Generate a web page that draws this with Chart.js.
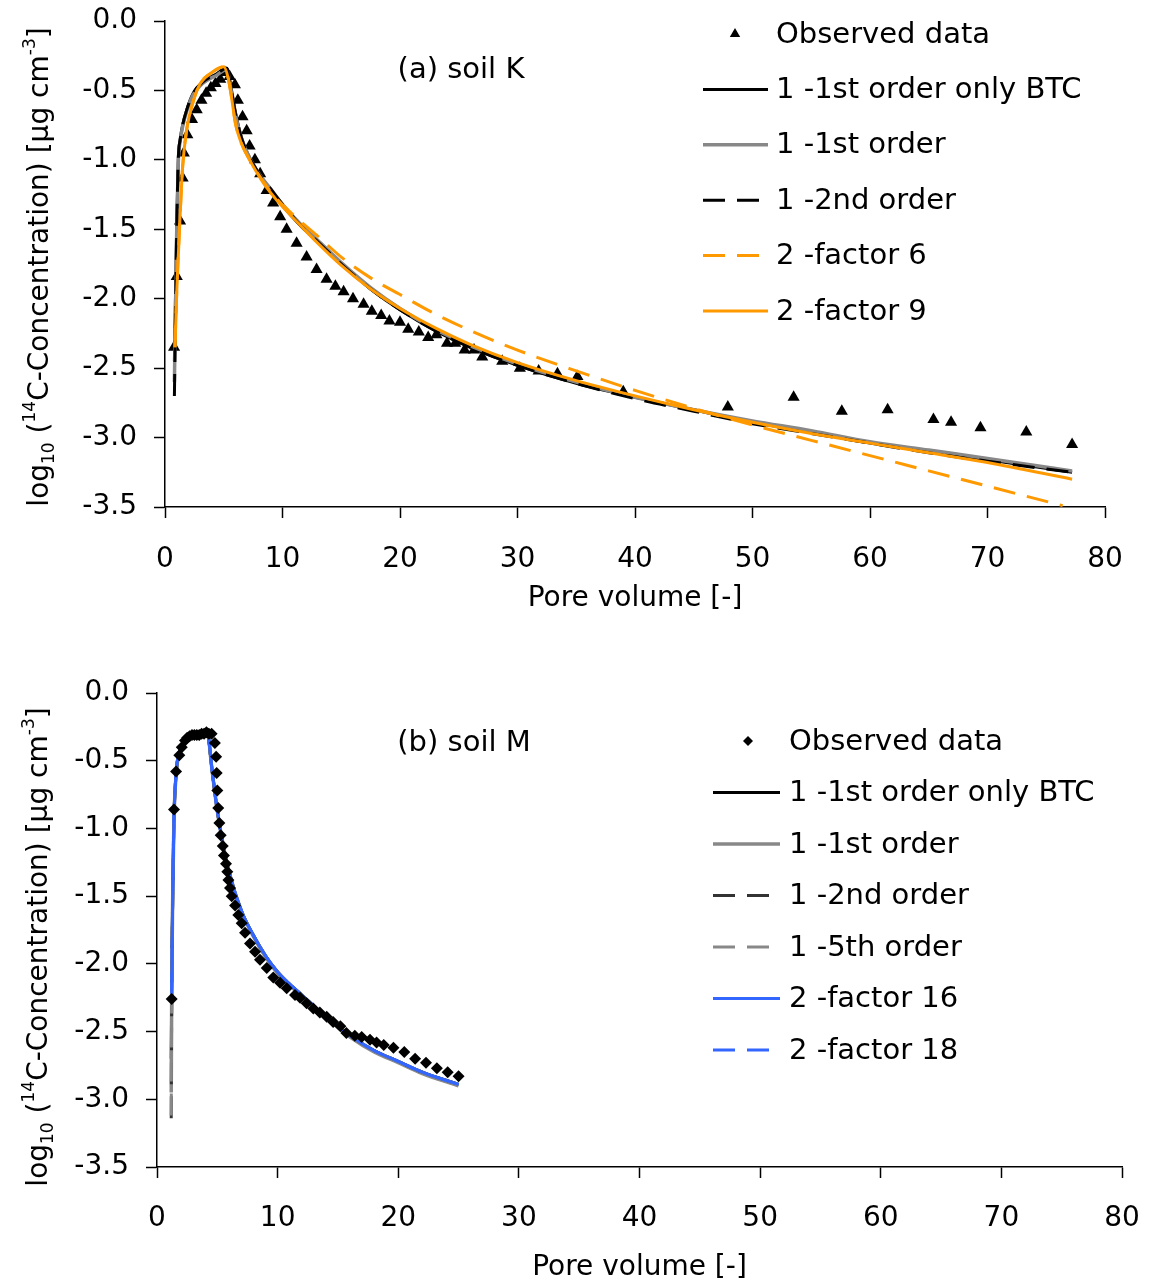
<!DOCTYPE html>
<html>
<head>
<meta charset="utf-8">
<script src="https://cdn.jsdelivr.net/npm/chart.js@4.4.0/dist/chart.umd.min.js"></script>
<style>
    html, body { margin: 0; padding: 0; background: #fff; }
    #wrap { position: relative; width: 1151px; height: 1286px; }
    #chartA { position: absolute; left: 0; top: 0; width: 1151px; height: 620px; }
    #chartB { position: absolute; left: 0; top: 640px; width: 1151px; height: 646px; }
</style>
</head>
<body>
<div id="wrap">
    <canvas id="chartA" width="1151" height="620"></canvas>
    <canvas id="chartB" width="1151" height="646"></canvas>
</div>
<script>
// ---- (a) soil K ----
const kObsX = [0.77, 1.0, 1.28, 1.5, 1.6, 1.9, 2.3, 2.7, 3.1, 3.5, 3.9, 4.3, 4.7, 5.1, 5.5, 5.95, 6.2, 6.6, 6.95, 7.2,
    7.65, 8.1, 8.65, 9.2, 9.8, 10.35, 11.2, 12.05, 12.9, 13.75, 14.5, 15.2, 16.0, 16.9, 17.6, 18.4, 19.1, 20.0, 20.7, 21.6,
    22.4, 23.1, 24.0, 24.7, 25.5, 26.3, 27.0, 28.7, 30.2, 31.8, 33.4, 35.1, 39.0, 47.9, 53.5, 57.6, 61.5, 65.4, 66.9, 69.4,
    73.3, 77.2];
const kObsY = [-2.35, -1.84, -1.44, -1.13, -0.95, -0.82, -0.71, -0.64, -0.57, -0.52, -0.48, -0.45, -0.42, -0.37, -0.40, -0.46, -0.57, -0.69, -0.79, -0.90,
    -1.00, -1.10, -1.22, -1.31, -1.41, -1.50, -1.60, -1.70, -1.79, -1.86, -1.91, -1.95, -2.00, -2.04, -2.09, -2.12, -2.16, -2.17, -2.22, -2.24,
    -2.28, -2.26, -2.32, -2.32, -2.37, -2.37, -2.42, -2.45, -2.50, -2.52, -2.54, -2.56, -2.67, -2.78, -2.71, -2.81, -2.80, -2.87, -2.89, -2.93,
    -2.96, -3.05];

const kModelX = [0.8, 0.9, 1.0, 1.13, 1.3, 1.5, 1.85, 2.4, 3.2, 4.4, 5.25, 5.6, 6.0, 6.5, 7.0, 8.0, 9.0, 10, 11.5, 13,
    15, 17.5, 20, 23, 26, 30, 35, 40, 45, 50, 55, 60, 65, 70, 77.2];
const kBtcY = [-2.45, -1.95, -1.45, -1.00, -0.85, -0.75, -0.64, -0.52, -0.44, -0.38, -0.34, -0.47, -0.66, -0.84, -0.95, -1.10, -1.22, -1.33, -1.47, -1.59,
    -1.75, -1.93, -2.08, -2.23, -2.35, -2.48, -2.61, -2.71, -2.80, -2.89, -2.96, -3.04, -3.10, -3.16, -3.25];
const kFirstY = [-2.60, -2.05, -1.50, -1.02, -0.86, -0.76, -0.65, -0.53, -0.45, -0.39, -0.35, -0.49, -0.68, -0.84, -0.95, -1.10, -1.21, -1.32, -1.46, -1.58,
    -1.74, -1.92, -2.07, -2.22, -2.34, -2.47, -2.60, -2.71, -2.80, -2.88, -2.95, -3.03, -3.09, -3.15, -3.24];
const kSecondY = [-2.70, -2.10, -1.50, -1.00, -0.85, -0.75, -0.64, -0.52, -0.44, -0.38, -0.34, -0.48, -0.67, -0.84, -0.95, -1.10, -1.21, -1.32, -1.47, -1.59,
    -1.75, -1.93, -2.08, -2.23, -2.35, -2.48, -2.61, -2.72, -2.81, -2.90, -2.97, -3.04, -3.11, -3.17, -3.25];

const kFactor9X = [0.85, 1.0, 1.28, 1.5, 1.85, 2.4, 3.0, 4.0, 5.0, 5.4, 5.7, 6.0, 6.5, 7.2, 8.4, 9.5, 11.5, 13, 15, 17.5,
    20, 23, 26, 30, 35, 40, 45, 50, 55, 60, 65, 70, 77.2];
const kFactor9Y = [-2.35, -1.95, -1.41, -1.05, -0.78, -0.58, -0.45, -0.37, -0.33, -0.42, -0.57, -0.74, -0.88, -1.00, -1.17, -1.29, -1.47, -1.60, -1.76, -1.93,
    -2.07, -2.21, -2.33, -2.46, -2.59, -2.70, -2.80, -2.89, -2.97, -3.04, -3.11, -3.18, -3.30];
const kFactor6X = [0.85, 1.0, 1.28, 1.5, 1.85, 2.4, 3.0, 4.0, 5.0, 5.4, 5.7, 6.0, 6.5, 7.2, 8.4, 9.5, 11.5, 13, 15, 17.5,
    20, 23, 26, 30, 35, 40, 45, 50, 55, 60, 65, 70, 76.4];
const kFactor6Y = [-2.35, -1.95, -1.41, -1.05, -0.78, -0.58, -0.45, -0.37, -0.33, -0.42, -0.57, -0.74, -0.88, -1.00, -1.16, -1.28, -1.44, -1.55, -1.70, -1.85,
    -1.97, -2.11, -2.23, -2.37, -2.52, -2.66, -2.79, -2.91, -3.02, -3.13, -3.24, -3.35, -3.49];

// ---- (b) soil M ----
const mObsX = [1.22, 1.41, 1.58, 1.85, 2.05, 2.32, 2.5, 2.7, 2.9, 3.1, 3.3, 3.5, 3.7, 3.9, 4.1, 4.3, 4.53, 4.8, 4.9, 4.95,
    5.0, 5.08, 5.17, 5.28, 5.45, 5.55, 5.72, 5.83, 5.92, 6.05, 6.19, 6.47, 6.74, 7.02, 7.3, 7.71, 8.13, 8.54, 9.1, 9.64,
    10.2, 10.75, 11.44, 11.86, 12.4, 12.96, 13.5, 14.07, 14.6, 15.2, 15.7, 16.4, 16.97, 17.66, 18.2, 18.8, 19.6, 20.5, 21.4, 22.3,
    23.2, 24.1, 25.0];
const mObsY = [-2.26, -0.86, -0.58, -0.46, -0.40, -0.35, -0.33, -0.32, -0.31, -0.31, -0.31, -0.31, -0.30, -0.30, -0.29, -0.30, -0.30, -0.37, -0.47, -0.59,
    -0.72, -0.85, -0.96, -1.05, -1.13, -1.20, -1.26, -1.32, -1.38, -1.44, -1.50, -1.57, -1.64, -1.70, -1.77, -1.85, -1.91, -1.97, -2.03, -2.10,
    -2.14, -2.18, -2.23, -2.25, -2.29, -2.33, -2.36, -2.39, -2.43, -2.46, -2.51, -2.53, -2.54, -2.56, -2.58, -2.60, -2.62, -2.65, -2.70, -2.73,
    -2.77, -2.80, -2.83];

const mModelX = [1.18, 1.22, 1.3, 1.4, 1.6, 2.0, 2.5, 3.0, 3.5, 4.0, 4.25, 4.5, 5.0, 5.5, 6.0, 7.0, 8.0, 9.0, 10, 11,
    12, 13, 14, 15, 16, 18, 20, 22, 25];
const mBtcY = [-2.70, -2.20, -1.50, -0.95, -0.58, -0.40, -0.33, -0.30, -0.29, -0.29, -0.32, -0.52, -0.87, -1.13, -1.33, -1.61, -1.79, -1.94, -2.06, -2.15,
    -2.23, -2.31, -2.39, -2.46, -2.53, -2.64, -2.72, -2.80, -2.89];
const mFirstY = [-2.95, -2.20, -1.52, -0.96, -0.59, -0.40, -0.33, -0.30, -0.29, -0.29, -0.32, -0.52, -0.87, -1.13, -1.33, -1.61, -1.80, -1.95, -2.07, -2.16,
    -2.24, -2.32, -2.40, -2.47, -2.54, -2.65, -2.73, -2.81, -2.90];
const mSecondY = [-3.14, -2.20, -1.50, -0.95, -0.58, -0.40, -0.33, -0.30, -0.29, -0.29, -0.32, -0.52, -0.87, -1.13, -1.33, -1.61, -1.79, -1.94, -2.06, -2.15,
    -2.23, -2.31, -2.39, -2.46, -2.53, -2.64, -2.72, -2.80, -2.89];
const mFifthY = [-3.12, -2.20, -1.50, -0.95, -0.58, -0.40, -0.33, -0.30, -0.29, -0.29, -0.32, -0.52, -0.87, -1.13, -1.33, -1.61, -1.79, -1.94, -2.06, -2.15,
    -2.23, -2.31, -2.39, -2.46, -2.53, -2.64, -2.72, -2.80, -2.89];
const mFactor16Y = [null, -2.20, -1.50, -0.95, -0.58, -0.40, -0.33, -0.30, -0.29, -0.29, -0.32, -0.52, -0.87, -1.13, -1.33, -1.61, -1.79, -1.94, -2.06, -2.15,
    -2.23, -2.31, -2.39, -2.46, -2.53, -2.64, -2.72, -2.80, -2.89];
const mFactor18Y = [null, -2.22, -1.50, -0.95, -0.58, -0.40, -0.33, -0.30, -0.29, -0.29, -0.32, -0.52, -0.87, -1.13, -1.33, -1.61, -1.79, -1.94, -2.06, -2.15,
    -2.23, -2.31, -2.39, -2.46, -2.53, -2.64, -2.72, -2.80, -2.89];

const yTicks = { min: -3.5, max: 0, step: 0.5 };
const xTicks = { min: 0, max: 80, step: 10 };

Chart.defaults.font.family = '"DejaVu Sans", sans-serif';
Chart.defaults.color = '#000';

const ORANGE = '#FF9900';
const BLUE = '#3366FF';
const DASH = [22, 12];

function pts(xs, ys) {
    return xs.map((x, i) => ({ x: x, y: ys[i] })).filter(p => p.y !== null);
}

function lineSet(label, xs, ys, color, width, dash, order) {
    return {
        label: label,
        data: pts(xs, ys),
        borderColor: color,
        backgroundColor: color,
        borderWidth: width,
        borderDash: dash || [],
        pointRadius: 0,
        cubicInterpolationMode: 'monotone',
        order: order
    };
}

function obsSet(xs, ys, style, r, order) {
    return {
        label: 'Observed data',
        data: pts(xs, ys),
        showLine: false,
        pointStyle: style,
        pointRadius: r,
        pointBorderWidth: 0,
        pointBackgroundColor: '#000',
        borderColor: '#000',
        backgroundColor: '#000',
        order: order
    };
}

function drawMarker(ctx, style, x, y, r) {
    ctx.beginPath();
    if (style === 'triangle') {
        ctx.moveTo(x, y - r);
        ctx.lineTo(x + r * Math.sin(2 * Math.PI / 3), y + r / 2);
        ctx.lineTo(x - r * Math.sin(2 * Math.PI / 3), y + r / 2);
    } else {
        ctx.moveTo(x, y - r);
        ctx.lineTo(x + r, y);
        ctx.lineTo(x, y + r);
        ctx.lineTo(x - r, y);
    }
    ctx.closePath();
    ctx.fillStyle = '#000';
    ctx.fill();
}

// legend, panel label and y title (sub/superscripts) drawn on the canvas
const decor = {
    id: 'decor',
    afterDraw(chart, args, o) {
        const ctx = chart.ctx;
        ctx.save();
        ctx.fillStyle = '#000';
        ctx.font = '29px "DejaVu Sans"';
        ctx.textAlign = 'center';
        ctx.textBaseline = 'middle';
        ctx.fillText(o.label, o.labelX, o.labelY);

        ctx.textAlign = 'left';
        chart.data.datasets.forEach((ds, i) => {
            const y = o.legendY + i * o.legendGap;
            if (ds.showLine === false) {
                drawMarker(ctx, ds.pointStyle, o.markerX, y, o.markerR);
            } else {
                ctx.beginPath();
                ctx.strokeStyle = ds.borderColor;
                ctx.lineWidth = ds.borderWidth;
                ctx.setLineDash(ds.borderDash);
                ctx.moveTo(o.lineX0, y);
                ctx.lineTo(o.lineX1, y);
                ctx.stroke();
                ctx.setLineDash([]);
            }
            ctx.fillStyle = '#000';
            ctx.font = '29px "DejaVu Sans"';
            ctx.fillText(ds.label, o.textX, y + 1);
        });

        const big = '28px "DejaVu Sans"', small = '17px "DejaVu Sans"';
        const parts = [['log', 0], ['10', 1], [' (', 0], ['14', 2], ['C-Concentration) [µg cm', 0], ['-3', 2], [']', 0]];
        let total = 0;
        parts.forEach(p => { ctx.font = p[1] ? small : big; total += ctx.measureText(p[0]).width; });
        ctx.translate(o.titleX, o.titleY);
        ctx.rotate(-Math.PI / 2);
        ctx.textBaseline = 'alphabetic';
        let u = -total / 2;
        parts.forEach(p => {
            ctx.font = p[1] ? small : big;
            const v = p[1] === 1 ? 16 : (p[1] === 2 ? -3 : 10);
            ctx.fillText(p[0], u, v);
            u += ctx.measureText(p[0]).width;
        });
        ctx.restore();
    }
};

function scales(yWidth, xHeight, xPad, titlePad) {
    const grid = { drawOnChartArea: false, drawTicks: true, tickLength: 11, color: '#000', tickWidth: 1.5 };
    const border = { display: true, color: '#000', width: 1.5 };
    return {
        x: {
            type: 'linear', min: xTicks.min, max: xTicks.max,
            ticks: { stepSize: xTicks.step, padding: xPad, color: '#000', font: { size: 28 } },
            grid: grid, border: border,
            title: { display: true, text: 'Pore volume [-]', color: '#000', font: { size: 28 }, padding: { top: 0, bottom: titlePad } },
            afterFit: s => { s.height = xHeight; s.paddingLeft = 0; s.paddingRight = 0; }
        },
        y: {
            type: 'linear', min: yTicks.min, max: yTicks.max,
            ticks: { stepSize: yTicks.step, padding: 17, color: '#000', font: { size: 28 }, callback: v => v.toFixed(1) },
            grid: grid, border: border,
            afterFit: s => { s.width = yWidth; s.paddingTop = 0; s.paddingBottom = 0; }
        }
    };
}

new Chart(document.getElementById('chartA'), {
    type: 'line',
    data: {
        datasets: [
            obsSet(kObsX, kObsY, 'triangle', 7, 10),
            lineSet('1 -1st order only BTC', kModelX, kBtcY, '#000000', 3, null, 6),
            lineSet('1 -1st order', kModelX, kFirstY, '#888888', 3.5, null, 5),
            lineSet('1 -2nd order', kModelX, kSecondY, '#000000', 3, DASH, 4),
            lineSet('2 -factor 6', kFactor6X, kFactor6Y, ORANGE, 3, DASH, 2),
            lineSet('2 -factor 9', kFactor9X, kFactor9Y, ORANGE, 3, null, 1)
        ]
    },
    options: {
        responsive: false,
        animation: false,
        events: [],
        layout: { padding: { left: 0, top: 21, right: 46, bottom: 0 } },
        scales: scales(165, 113, 25, 4),
        plugins: {
            legend: { display: false },
            tooltip: { enabled: false },
            decor: {
                label: '(a) soil K', labelX: 461, labelY: 70,
                legendY: 34, legendGap: 55.4, markerX: 735, markerR: 6,
                lineX0: 703, lineX1: 768, textX: 776,
                titleX: 38, titleY: 267
            }
        }
    },
    plugins: [decor]
});

new Chart(document.getElementById('chartB'), {
    type: 'line',
    data: {
        datasets: [
            obsSet(mObsX, mObsY, 'rectRot', 6, 0),
            lineSet('1 -1st order only BTC', mModelX, mBtcY, '#000000', 3, null, 7),
            lineSet('1 -1st order', mModelX, mFirstY, '#888888', 3.5, null, 6),
            lineSet('1 -2nd order', mModelX, mSecondY, '#333333', 3, DASH, 5),
            lineSet('1 -5th order', mModelX, mFifthY, '#888888', 3, DASH, 4),
            lineSet('2 -factor 16', mModelX, mFactor16Y, BLUE, 3, null, 2),
            lineSet('2 -factor 18', mModelX, mFactor18Y, BLUE, 3, DASH, 3)
        ]
    },
    options: {
        responsive: false,
        animation: false,
        events: [],
        layout: { padding: { left: 0, top: 53, right: 29, bottom: 0 } },
        scales: scales(157, 119, 24, 1),
        plugins: {
            legend: { display: false },
            tooltip: { enabled: false },
            decor: {
                label: '(b) soil M', labelX: 464, labelY: 103,
                legendY: 101, legendGap: 51.5, markerX: 748, markerR: 5,
                lineX0: 713, lineX1: 780, textX: 789,
                titleX: 37, titleY: 307
            }
        }
    },
    plugins: [decor]
});
</script>
</body>
</html>
